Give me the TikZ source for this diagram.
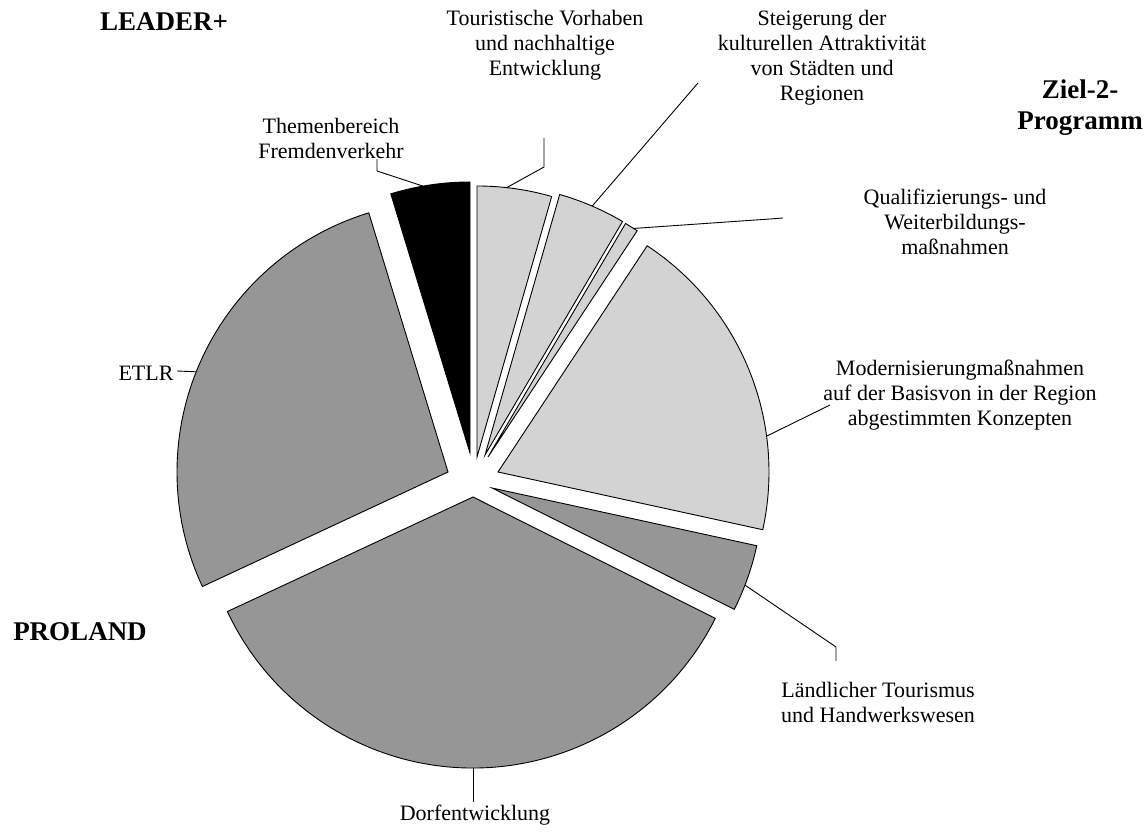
\documentclass[tikz,border=0pt]{standalone}
\usepackage{fontspec}
\setmainfont{Liberation Serif}
\usetikzlibrary{calc}
\definecolor{lightslice}{RGB}{211,211,211}
\definecolor{darkslice}{RGB}{150,150,150}
\newcommand\pieslice[6]{%
  \filldraw[slicestyle, fill=#5] (#1,#2) coordinate (#6) -- ++(#3:271) arc[start angle=#3, end angle=#4, radius=271] -- cycle;}
\begin{document}
\begin{tikzpicture}[x=1pt,y=1pt,
  slicestyle/.style={draw=black, line width=0.9pt, line join=miter},
  lbl/.style={align=center, font=\fontsize{22}{25}\selectfont, inner sep=0pt},
  ttl/.style={align=center, font=\fontsize{27}{31}\selectfont\bfseries, inner sep=0pt},
  leader/.style={draw=black, line width=0.9pt}]
\useasboundingbox (0,0) rectangle (1147,832);
% slices
\pieslice{477}{375}{90}{74}{lightslice}{tour}
\pieslice{485}{377}{74}{59.5}{lightslice}{steig}
\pieslice{488}{375}{59.5}{56.6}{lightslice}{qual}
\pieslice{498}{360}{56.6}{-12.3}{lightslice}{mod}
\pieslice{492}{344}{-12.3}{-26.6}{darkslice}{laend}
\pieslice{473}{335}{-26.6}{-155}{darkslice}{dorf}
\pieslice{448}{360}{205}{107}{darkslice}{etlr}
\pieslice{470}{379}{107}{90}{black}{themen}
% labels
\node[ttl] (leader) at (164,810) {LEADER+};
\node[ttl] (ziel) at (1080,724) {Ziel-2-\\Programm};
\node[ttl] (proland) at (80,200) {PROLAND};
\node[lbl] (lthemen) at (331,694) {Themenbereich\\Fremdenverkehr};
\node[lbl] (ltour) at (545,787) {Touristische Vorhaben\\und nachhaltige\\Entwicklung};
\node[lbl] (lsteig) at (822,774) {Steigerung der\\kulturellen Attraktivität\\von Städten und\\Regionen};
\node[lbl] (lqual) at (955,610.5) {Qualifizierungs- und\\Weiterbildungs-\\maßnahmen};
\node[lbl] (lmod) at (960,437) {Modernisierungmaßnahmen\\auf der Basisvon in der Region\\abgestimmten Konzepten};
\node[lbl] (letlr) at (146,459) {ETLR};
\node[lbl] (llaend) at (878,129.5) {Ländlicher Tourismus\\und Handwerkswesen};
\node[lbl] (ldorf) at (475,17) {Dorfentwicklung};
% leader lines
\coordinate (e1) at (377,673);
\coordinate (e2) at (544,694);
\coordinate (e3) at (698,749);
\coordinate (e4) at (783,614);
\coordinate (e5) at (830,427);
\coordinate (e6) at (836,171);
\coordinate (e7) at (473,30);
\coordinate (e8) at (177,461);
\draw[leader] ($(themen)+(100:271)$) -- (377,661) -- (e1);
\draw[leader] ($(tour)+(83.7:271)$) -- (544,665) -- (e2);
\draw[leader] ($(steig)+(66.7:271)$) -- (e3);
\draw[leader] ($(qual)+(57.5:271)$) -- (770,613) -- (e4);
\draw[leader] ($(mod)+(7.6:271)$) -- (e5);
\draw[leader] ($(laend)+(-21:271)$) -- (836,185) -- (e6);
\draw[leader] ($(dorf)+(-90:271)$) -- (e7);
\draw[leader] ($(etlr)+(158.3:271)$) -- (e8);
\end{tikzpicture}
\end{document}
